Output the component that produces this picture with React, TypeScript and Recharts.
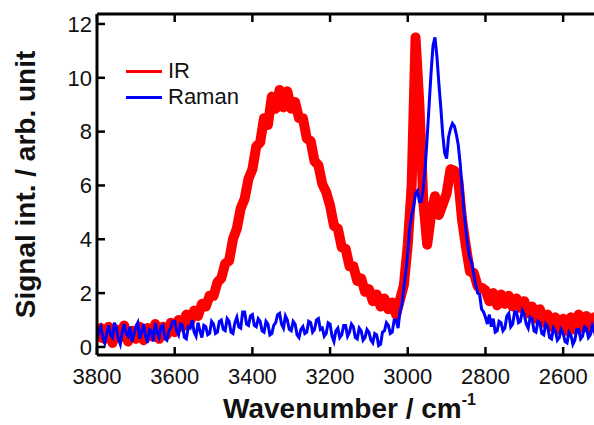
import { LineChart, Line, XAxis, YAxis, Legend, Label } from 'recharts';

// IR sampled every 10 cm-1 and Raman every 5 cm-1, both from 3800 down to 2500
const IR_STEP = 10;
const RAMAN_STEP = 5;
const START_WN = 3800;

const irSignal = [
  0.2, 0.7, 0.3, 0.75, 0.15, 0.65, 0.35, 0.8, 0.2, 0.6,
  0.3, 0.75, 0.25, 0.7, 0.4, 0.85, 0.3, 0.75, 0.45, 0.9,
  0.55, 1.0, 0.75, 1.2, 0.95, 1.35, 1.15, 1.6, 1.5, 1.9,
  1.9, 2.4, 2.55, 3.1, 3.2, 4.0, 4.4, 5.15, 5.5, 6.25,
  6.6, 7.45, 7.6, 8.5, 8.25, 9.3, 8.85, 9.55, 8.9, 9.5,
  8.85, 9.1, 8.5, 8.5, 7.75, 7.65, 6.9, 6.75, 6.05, 5.75,
  5.25, 4.5, 4.4, 3.7, 3.65, 3.0, 3.0, 2.45, 2.55, 2.05,
  2.15, 1.7, 1.95, 1.5, 1.8, 1.4, 1.65, 1.2, 1.75, 2.3,
  3.8, 6.0, 11.5, 9.0, 5.4, 3.8, 4.9, 5.6, 4.9, 5.3,
  5.7, 6.6, 6.55, 6.2, 4.7, 3.7, 2.8, 2.75, 2.25, 2.2,
  2.1, 1.7, 2.0, 1.55, 1.95, 1.6, 1.9, 1.5, 1.8, 1.45,
  1.7, 1.25, 1.5, 1.05, 1.4, 0.9, 1.2, 0.75, 1.1, 0.65,
  1.05, 0.6, 1.1, 0.65, 1.2, 0.7, 1.15, 0.7, 1.1, 0.7, 1.0,
];

const ramanSignal = [
  0.3, 0.6, 0.75, 0.35, 0.15, 0.5, 0.8, 0.45, 0.35, 0.9, 0.7, 0.3, 0.1, 0.55, 0.85, 0.5, 0.4, 0.75, 0.2, 0.45,
  0.75, 0.9, 0.3, 0.55, 0.85, 0.4, 0.15, 0.65, 0.6, 0.2, 0.9, 0.55, 0.35, 0.75, 0.8, 0.3, 0.25, 0.6, 0.7, 0.95,
  0.95, 0.6, 0.45, 0.85, 0.8, 0.35, 0.3, 0.75, 0.7, 1.0, 0.55, 0.4, 0.9, 0.6, 0.35, 0.8, 0.75, 0.45, 0.5, 0.95,
  0.85, 0.5, 0.55, 0.95, 1.0, 0.65, 0.6, 1.05, 0.95, 0.55, 0.5, 0.9, 1.1, 0.75, 0.7, 1.3, 1.3, 0.85, 0.8, 1.15,
  1.2, 0.8, 0.75, 1.05, 0.95, 0.6, 0.55, 0.95, 0.85, 0.45, 0.5, 0.8, 0.9, 1.2, 1.25, 0.85, 0.7, 1.15, 1.0, 0.65,
  0.6, 0.95, 0.85, 0.45, 0.35, 0.65, 0.75, 0.5, 0.55, 0.95, 0.9, 0.55, 0.65, 1.0, 1.05, 0.65, 0.7, 0.4, 0.5, 0.9,
  0.85, 0.4, 0.2, 0.6, 0.7, 0.35, 0.45, 0.8, 0.8, 0.4, 0.55, 0.85, 0.75, 0.35, 0.3, 0.7, 0.6, 0.25, 0.35, 0.65,
  0.55, 0.25, 0.15, 0.5, 0.45, 0.05, 0.1, 0.55, 0.6, 0.9, 0.8, 0.5, 0.55, 1.0, 1.0, 0.7, 1.3, 1.6, 2.2, 2.8,
  3.5, 4.4, 4.9, 5.2, 5.7, 5.8, 5.4, 5.4, 5.9, 6.7, 7.8, 9.0, 10.2, 11.2, 11.5, 10.8, 9.8, 8.9, 7.9, 7.2,
  7.0, 7.8, 8.1, 8.3, 8.2, 7.9, 7.5, 6.8, 5.9, 5.0, 4.3, 3.7, 3.3, 3.1, 2.7, 2.3, 2.0, 1.95, 1.4, 1.3,
  1.1, 0.85, 1.2, 0.75, 1.05, 0.55, 0.6, 0.95, 0.9, 0.6, 0.7, 1.15, 1.25, 0.75, 0.85, 1.3, 1.3, 0.9, 0.95, 1.35,
  1.2, 0.85, 0.7, 1.1, 1.05, 0.6, 0.55, 0.95, 0.9, 0.5, 0.45, 0.85, 0.75, 0.35, 0.3, 0.7, 0.6, 0.25, 0.35, 0.65,
  0.5, 0.2, 0.15, 0.55, 0.45, 0.1, 0.25, 0.65, 0.65, 0.3, 0.4, 0.75, 0.7, 0.35, 0.45, 0.8, 0.6, 0.3, 0.35, 0.65, 0.6,
];

const xTicks = [3800, 3600, 3400, 3200, 3000, 2800, 2600];
const yTicks = [0, 2, 4, 6, 8, 10, 12];

const irRows = irSignal.map((v, i) => ({ wn: START_WN - IR_STEP * i, ir: v }));
const ramanRows = ramanSignal.map((v, i) => ({ wn: START_WN - RAMAN_STEP * i, raman: v }));

const FONT = '"Liberation Sans", Arial, sans-serif';
const axisLine = { stroke: '#000', strokeWidth: 3 };
const tickLine = { stroke: '#000', strokeWidth: 2.5 };
const tickText = { fontSize: 22, fill: '#111', fontFamily: FONT };
const noText = () => '';

function LegendBox() {
  const items = [
    { label: 'IR', color: '#ff0000' },
    { label: 'Raman', color: '#0000ff' },
  ];
  return (
    <div style={{ fontFamily: FONT, fontSize: 22, color: '#111' }}>
      {items.map((it) => (
        <div key={it.label} style={{ display: 'flex', alignItems: 'center', height: 26 }}>
          <span style={{ display: 'inline-block', width: 36, height: 3, background: it.color, marginRight: 6 }} />
          <span>{it.label}</span>
        </div>
      ))}
    </div>
  );
}

export default function App() {
  return (
    <div style={{ position: 'absolute', left: 0, top: 0, width: 594, height: 425, overflow: 'hidden', background: '#fff' }}>
      <LineChart width={612} height={425} margin={{ top: 0, right: 2, bottom: 0, left: 0 }}>
        <XAxis
          dataKey="wn"
          type="number"
          domain={[2500, 3800]}
          reversed
          allowDataOverflow
          allowDuplicatedCategory={false}
          ticks={xTicks}
          height={70}
          axisLine={axisLine}
          tickLine={tickLine}
          tickSize={-8}
          tickMargin={21}
          tick={tickText}
        >
          <Label
            content={({ viewBox }: any) => (
              <text
                x={viewBox.x + viewBox.width / 2}
                y={418}
                textAnchor="middle"
                fontFamily={FONT}
                fontWeight="bold"
                fontSize={28}
                fill="#111"
              >
                Wavenumber / cm<tspan fontSize={16} dy={-13}>-1</tspan>
              </text>
            )}
          />
        </XAxis>
        <XAxis
          xAxisId="top"
          orientation="top"
          dataKey="wn"
          type="number"
          domain={[2500, 3800]}
          reversed
          allowDataOverflow
          ticks={xTicks}
          height={14}
          axisLine={axisLine}
          tickLine={tickLine}
          tickSize={-8}
          tickFormatter={noText}
        />
        <YAxis
          type="number"
          domain={[-0.3, 12.37]}
          allowDataOverflow
          ticks={yTicks}
          width={97}
          axisLine={axisLine}
          tickLine={tickLine}
          tickSize={-8}
          tickMargin={13}
          tick={tickText}
        >
          <Label
            content={({ viewBox }: any) => {
              const cy = viewBox.y + viewBox.height / 2;
              return (
                <text
                  x={35}
                  y={cy}
                  transform={`rotate(-90, 35, ${cy})`}
                  textAnchor="middle"
                  fontFamily={FONT}
                  fontWeight="bold"
                  fontSize={28}
                  fill="#111"
                >
                  Signal int. / arb. unit
                </text>
              );
            }}
          />
        </YAxis>
        <YAxis
          yAxisId="right"
          orientation="right"
          type="number"
          domain={[-0.3, 12.37]}
          allowDataOverflow
          ticks={yTicks}
          width={8}
          axisLine={axisLine}
          tickLine={tickLine}
          tickSize={-8}
          tickFormatter={noText}
        />
        <Legend
          layout="horizontal"
          verticalAlign="middle"
          align="center"
          content={() => <LegendBox />}
          wrapperStyle={{ position: 'absolute', left: 126, top: 58, width: 'auto', height: 'auto' }}
        />
        {/* keeps the mirrored top/right axes bound to the same scale */}
        <Line
          xAxisId="top"
          yAxisId="right"
          data={irRows}
          dataKey="ir"
          stroke="none"
          dot={false}
          legendType="none"
          isAnimationActive={false}
        />
        <Line
          type="linear"
          data={irRows}
          dataKey="ir"
          stroke="#ff0000"
          strokeWidth={10}
          strokeLinejoin="round"
          dot={false}
          isAnimationActive={false}
        />
        <Line
          type="linear"
          data={ramanRows}
          dataKey="raman"
          stroke="#0000ff"
          strokeWidth={3}
          dot={false}
          isAnimationActive={false}
        />
      </LineChart>
    </div>
  );
}
